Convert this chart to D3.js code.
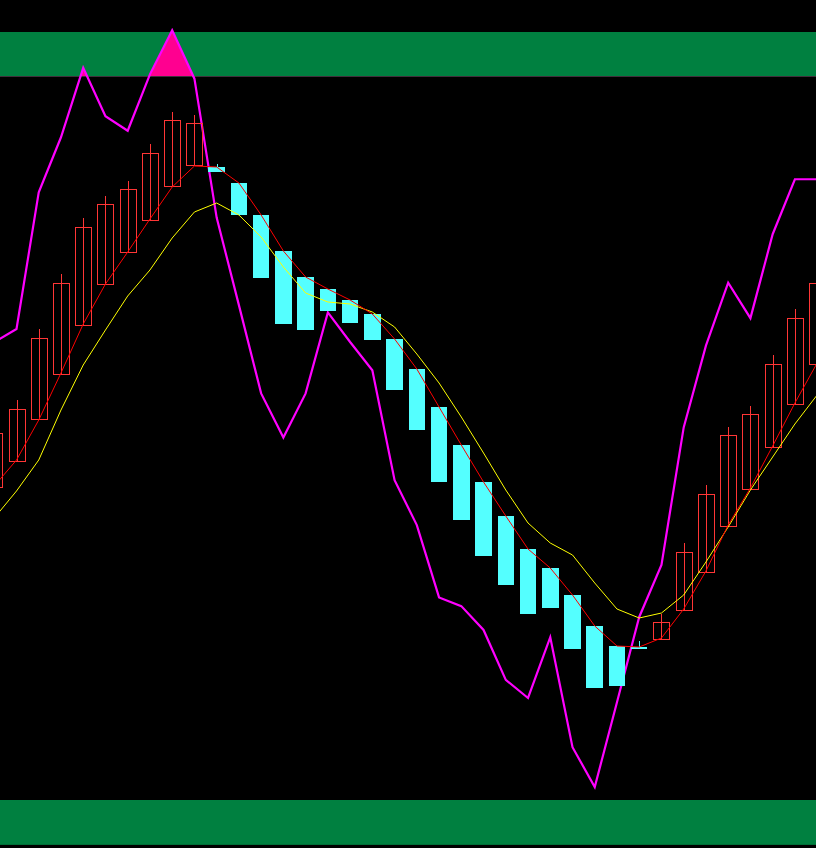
<!DOCTYPE html>
<html>
<head>
<meta charset="utf-8">
<script src="https://cdn.jsdelivr.net/npm/d3@7"></script>
<style>
  html, body { margin: 0; padding: 0; background: #000; }
  svg { display: block; }
</style>
</head>
<body>
<div id="chart"></div>
<script>
// bar index (first and last bars are cut by the frame)
const bars = d3.range(-1, 37)

const opens  = [10.27, 10.79, 11.61, 12.53, 13.51, 14.31, 14.95, 15.61, 16.27, 16.69, 16.66, 16.34, 15.70, 14.98, 14.46, 14.22, 14.00, 13.72, 13.22, 12.62, 11.86, 11.10, 10.36, 9.68, 9.02, 8.64, 8.10, 7.48, 7.08, 7.07, 7.23, 7.81, 8.57, 9.49, 10.23, 11.07, 11.93, 12.73]
const highs  = [11.50, 12.00, 13.42, 14.52, 15.64, 16.08, 16.38, 17.12, 17.76, 17.70, 16.72, 16.34, 15.70, 14.98, 14.46, 14.22, 14.00, 13.72, 13.22, 12.62, 11.86, 11.10, 10.36, 9.68, 9.02, 8.64, 8.10, 7.48, 7.08, 7.18, 7.73, 9.14, 10.30, 11.47, 11.89, 12.90, 13.82, 14.52]
const lows   = [10.27, 10.79, 11.61, 12.53, 13.51, 14.31, 14.95, 15.61, 16.27, 16.69, 16.57, 15.71, 14.45, 13.53, 13.41, 13.79, 13.55, 13.21, 12.20, 11.41, 10.37, 9.61, 8.89, 8.31, 7.73, 7.85, 7.03, 6.25, 6.29, 7.03, 7.23, 7.81, 8.57, 9.49, 10.23, 11.07, 11.93, 12.73]
const closes = [11.34, 11.83, 13.23, 14.35, 15.47, 15.91, 16.21, 16.95, 17.59, 17.53, 16.57, 15.71, 14.45, 13.53, 13.41, 13.79, 13.55, 13.21, 12.20, 11.41, 10.37, 9.61, 8.89, 8.31, 7.73, 7.85, 7.03, 6.25, 6.29, 7.03, 7.57, 8.97, 10.13, 11.31, 11.73, 12.73, 13.65, 14.35]

// moving averages (red short, yellow long)
const maShort = [10.28, 10.80, 11.60, 12.54, 13.52, 14.32, 14.96, 15.62, 16.26, 16.68, 16.66, 16.34, 15.70, 14.98, 14.46, 14.22, 14.00, 13.72, 13.22, 12.62, 11.86, 11.10, 10.36, 9.68, 9.02, 8.64, 8.10, 7.48, 7.08, 7.06, 7.24, 7.82, 8.58, 9.50, 10.24, 11.08, 11.94, 12.74]
const maLong  = [9.64, 10.18, 10.80, 11.80, 12.70, 13.40, 14.08, 14.60, 15.24, 15.76, 15.94, 15.70, 15.26, 14.66, 14.14, 13.96, 13.92, 13.76, 13.46, 12.92, 12.34, 11.66, 10.94, 10.20, 9.54, 9.14, 8.90, 8.34, 7.82, 7.64, 7.74, 8.10, 8.76, 9.46, 10.20, 10.86, 11.52, 12.10]

// oscillator (magenta) and its band levels
const osc = [63.3, 65.1, 84.0, 91.6, 101.2, 94.5, 92.5, 100.3, 106.4, 99.7, 80.5, 68.4, 56.2, 50.1, 56.2, 67.4, 63.3, 59.4, 44.2, 38.0, 28.0, 26.8, 23.5, 16.6, 14.1, 22.5, 7.3, 1.8, 13.5, 25.3, 32.5, 51.5, 62.8, 71.5, 66.6, 78.2, 85.8, 85.8]
const upperBand = [100, 106.15]
const lowerBand = [-6.2, 0]
const overLevel = 100

const W = 816, H = 848

const svg = d3.select('#chart').append('svg').attr('width', W).attr('height', H)
svg.append('rect').attr('width', W).attr('height', H).attr('fill', '#000')

const x = d3.scaleLinear().domain([-1, 36]).range([-5.74, 817.14])
const y = d3.scaleLinear().domain([3.04, 20]).range([H, 0])
const yo = d3.scaleLinear().domain([0, 100]).range([800, 76.5])

const data = bars.map((b, i) => ({
  i: b, o: opens[i], h: highs[i], l: lows[i], c: closes[i],
  ms: maShort[i], ml: maLong[i], osc: osc[i]
}))

// green bands
svg.selectAll('rect.band').data([upperBand, lowerBand]).enter().append('rect')
  .attr('class', 'band')
  .attr('x', 0).attr('width', W)
  .attr('y', d => yo(d[1]))
  .attr('height', d => yo(d[0]) - yo(d[1]))
  .attr('fill', '#008040')

// fill where oscillator goes above the level
svg.append('clipPath').attr('id', 'over')
  .append('rect').attr('x', 0).attr('y', 0).attr('width', W).attr('height', yo(overLevel))
svg.append('path').datum(data)
  .attr('clip-path', 'url(#over)')
  .attr('d', d3.area().x(d => x(d.i)).y0(yo(overLevel)).y1(d => yo(d.osc)))
  .attr('fill', '#ff0090')

svg.append('path').datum(data)
  .attr('d', d3.line().x(d => x(d.i)).y(d => yo(d.osc)))
  .attr('fill', 'none').attr('stroke', '#ff00ff').attr('stroke-width', 2.2)
  .attr('stroke-linejoin', 'miter')

// candles
const up = data.filter(d => d.c >= d.o)
const down = data.filter(d => d.c < d.o)

const gDown = svg.append('g').attr('shape-rendering', 'crispEdges')
gDown.selectAll('line').data(down).enter().append('line')
  .attr('x1', d => Math.round(x(d.i)) + 0.5).attr('x2', d => Math.round(x(d.i)) + 0.5)
  .attr('y1', d => y(d.h)).attr('y2', d => y(d.l))
  .attr('stroke', '#54ffff')
gDown.selectAll('rect').data(down).enter().append('rect')
  .attr('x', d => x(d.i) - 8.25).attr('width', 16.5)
  .attr('y', d => y(d.o)).attr('height', d => Math.max(2, y(d.c) - y(d.o)))
  .attr('fill', '#54ffff')

const gUp = svg.append('g').attr('shape-rendering', 'crispEdges')
gUp.selectAll('line').data(up).enter().append('line')
  .attr('x1', d => Math.round(x(d.i)) + 0.5).attr('x2', d => Math.round(x(d.i)) + 0.5)
  .attr('y1', d => y(d.h)).attr('y2', d => y(d.l))
  .attr('stroke', '#ff3636')
gUp.selectAll('rect').data(up).enter().append('rect')
  .attr('x', d => Math.round(x(d.i) - 8) + 0.5).attr('width', 16)
  .attr('y', d => Math.round(y(d.c)) + 0.5).attr('height', d => Math.round(y(d.o) - y(d.c)))
  .attr('fill', 'none').attr('stroke', '#ff3636')

// moving average lines
svg.append('path').datum(data)
  .attr('d', d3.line().x(d => x(d.i)).y(d => y(d.ml)))
  .attr('fill', 'none').attr('stroke', '#ffff00').attr('stroke-width', 1)
svg.append('path').datum(data)
  .attr('d', d3.line().x(d => x(d.i)).y(d => y(d.ms)))
  .attr('fill', 'none').attr('stroke', '#ff0000').attr('stroke-width', 1)
</script>
</body>
</html>
